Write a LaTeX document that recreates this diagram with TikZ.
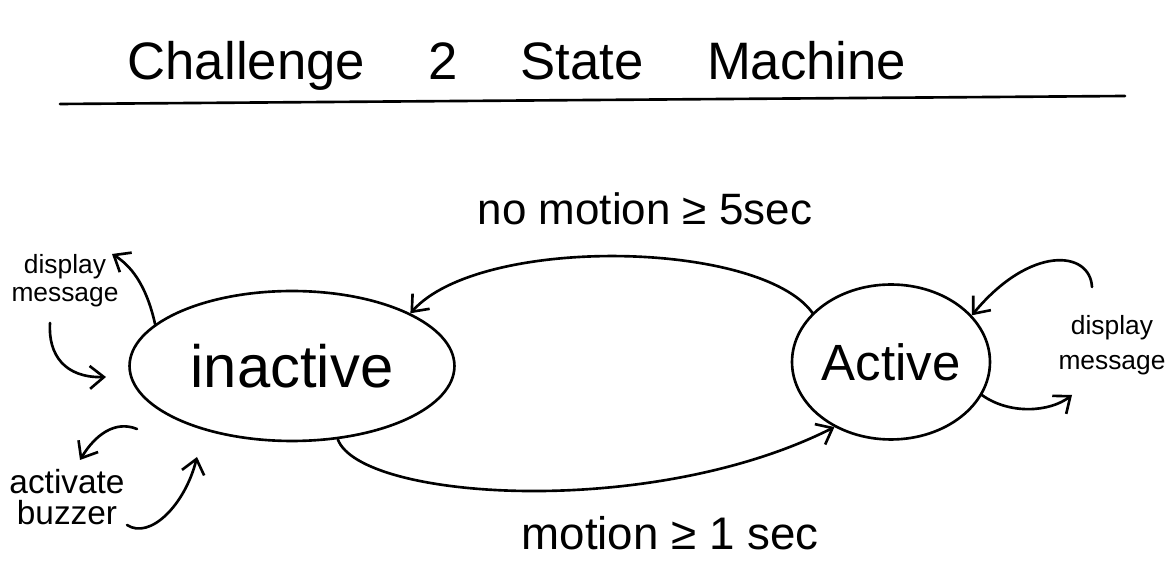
\documentclass[tikz,border=0pt]{standalone}
\usepackage{fontspec}
\setmainfont{Liberation Sans}
\usetikzlibrary{shapes.geometric,arrows.meta}
\begin{document}
\begin{tikzpicture} [x=0.02cm,y=-0.02cm,
        stnode/.style={ellipse,draw,line width=1.5pt,inner sep=0pt},
        hand/.style={line width=1.5pt,line cap=round},
        arr/.style={hand,-{Straight Barb[length=8pt,width=13pt,line width=1.5pt]}},
        note/.style={align=center,inner sep=2pt}]
        \useasboundingbox (0,0) rectangle (1171,563);
        \node[anchor=base,font=\fontsize{30}{36}\selectfont] (title) at (517,80) {Challenge\hspace{1.2em}2\hspace{1.2em}State\hspace{1.2em}Machine};
        \draw [hand] (60,104) -- (1125,96);
% states
        \node[stnode,minimum width=6.5cm,minimum height=3cm,font=\fontsize{34}{40}\selectfont]  (inact) at (292,366) {inactive};
        \node[stnode,minimum width=3.96cm,minimum height=3.1cm,font=\fontsize{29}{34}\selectfont] (act) at (891,362) {Active};
% transitions
        \draw [arr] (act.148) .. controls (760,240) and (480,235) .. (inact.24);
        \node[anchor=base,font=\fontsize{25}{30}\selectfont] (tnomo) at (645,225) {no motion ≥ 5sec};
        \draw [arr] (inact.-58) .. controls (360,500) and (650,520) .. (act.229);
        \node[anchor=base,font=\fontsize{26}{30}\selectfont] (tmo) at (670,550) {motion ≥ 1 sec};
% actions, left
        \node[note,font=\fontsize{15}{16}\selectfont] (lmsg) at (65,281) {display\\message};
        \coordinate (lmsgin) at (112,254);
        \coordinate (lmsgout) at (50,323);
        \coordinate (inactl) at (106,377);
        \draw [arr] (inact.163) .. controls (148,292) and (135,268) .. (lmsgin);
        \draw [arr] (lmsgout) .. controls (48,355) and (65,378) .. (inactl);
        \node[note,font=\fontsize{19}{18}\selectfont] (lbuzz) at (67,497) {activate\\buzzer};
        \coordinate (inactsw) at (137,429);
        \coordinate (lbuzzin) at (80,460);
        \coordinate (lbuzzout) at (127,525);
        \coordinate (inacts) at (197,457);
        \draw [arr] (inactsw) .. controls (115,420) and (95,435) .. (lbuzzin);
        \draw [arr] (lbuzzout) .. controls (150,540) and (185,505) .. (inacts);
% actions, right
        \node[note,font=\fontsize{15}{20}\selectfont] (rmsg) at (1112,345) {display\\message};
        \coordinate (rmsgout) at (1092,287);
        \coordinate (rmsgin) at (1072,395);
        \draw [arr] (rmsgout) .. controls (1090,250) and (1030,245) .. (act.30);
        \draw [arr] (act.-20) .. controls (1010,415) and (1050,412) .. (rmsgin);
\end{tikzpicture}
\end{document}
